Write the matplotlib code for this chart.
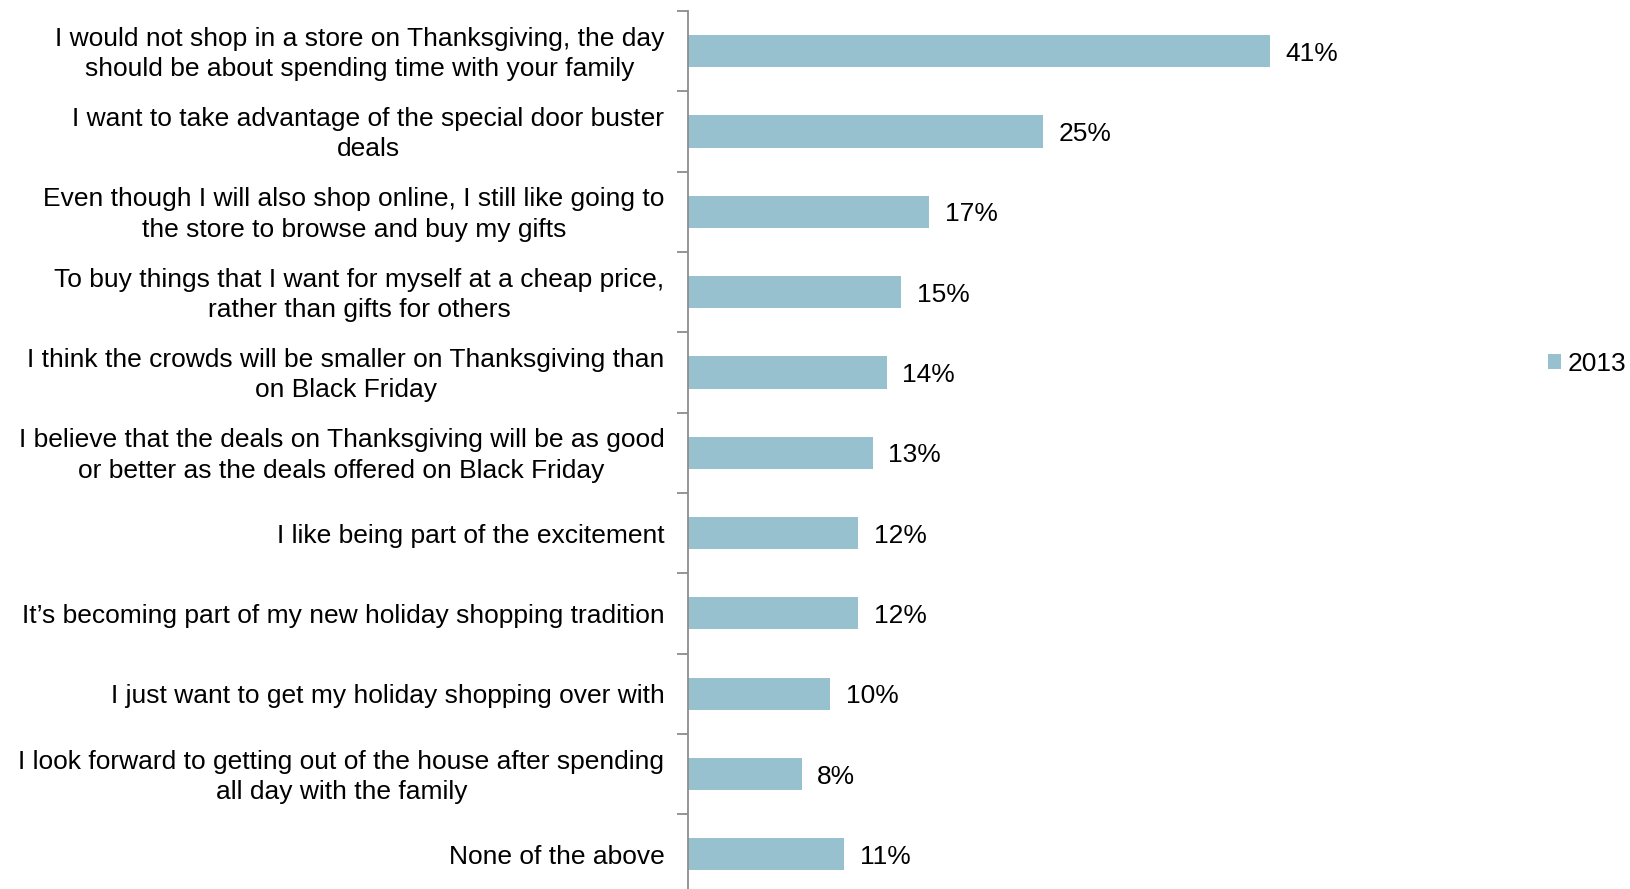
import numpy as np
import matplotlib.pyplot as plt
import matplotlib.transforms as mtransforms

plt.rcParams['font.family'] = ['Liberation Sans', 'DejaVu Sans']

# Reasons for shopping on Thanksgiving, top to bottom
reasons = [
    "I would not shop in a store on Thanksgiving, the day\nshould be about spending time with your family",
    "I want to take advantage of the special door buster\ndeals",
    "Even though I will also shop online, I still like going to\nthe store to browse and buy my gifts",
    "To buy things that I want for myself at a cheap price,\nrather than gifts for others",
    "I think the crowds will be smaller on Thanksgiving than\non Black Friday",
    "I believe that the deals on Thanksgiving will be as good\nor better as the deals offered on Black Friday",
    "I like being part of the excitement",
    "It\u2019s becoming part of my new holiday shopping tradition",
    "I just want to get my holiday shopping over with",
    "I look forward to getting out of the house after spending\nall day with the family",
    "None of the above",
]
pct_2013 = [41, 25, 17, 15, 14, 13, 12, 12, 10, 8, 11]
series_name = "2013"

bar_color = "#97C1CF"
axis_color = "#8C8C8C"
fs = 19

fig = plt.figure(figsize=(16.3, 8.89), dpi=100)
ax = fig.add_axes([0.4221, -0.0062, 0.4356, 0.9938])

y = np.arange(len(reasons))
bars = ax.barh(y, pct_2013, height=0.4, color=bar_color, label=series_name)

for yi, v in zip(y, pct_2013):
    ax.text(v + 1.1, yi, f"{v}%", va="center_baseline", ha="left", fontsize=fs)

ax.set_xlim(0, 50)
ax.set_ylim(len(reasons) - 0.5, -0.5)

# category names at bar centres, tick marks between categories
ax.set_yticks(y)
ax.set_yticklabels(reasons, fontsize=fs, multialignment="center", linespacing=1.33)
ax.tick_params(axis="y", which="major", length=0, pad=17)
ax.set_yticks(np.arange(len(reasons) + 1) - 0.5, minor=True)
ax.tick_params(axis="y", which="minor", length=8, width=1.3, color=axis_color, direction="out")

# two-line labels sit a little high on their bars
nudge = mtransforms.ScaledTranslation(0, 3 / 100, fig.dpi_scale_trans)
for lab in ax.get_yticklabels():
    if "\n" in lab.get_text():
        lab.set_transform(lab.get_transform() + nudge)

ax.set_xticks([])
for side in ["top", "right", "bottom"]:
    ax.spines[side].set_visible(False)
ax.spines["left"].set_color(axis_color)
ax.spines["left"].set_linewidth(1.3)

fig.legend(handles=[bars], labels=[series_name], loc="center left",
           bbox_to_anchor=(0.9415, 0.591), frameon=False, fontsize=fs,
           handlelength=0.5, handleheight=0.5, handletextpad=0.25, borderpad=0)

fig.savefig("out.png", dpi=100)
